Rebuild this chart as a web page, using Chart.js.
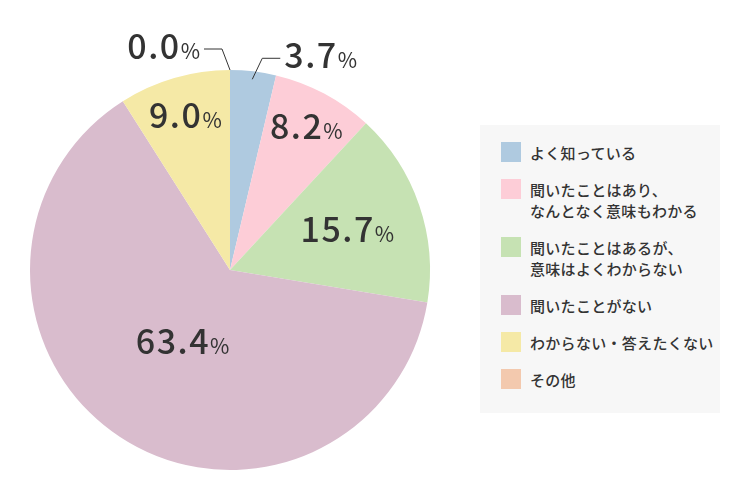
<!DOCTYPE html>
<html lang="ja">
<head>
<meta charset="UTF-8">
<title>認知度</title>
<script src="https://cdn.jsdelivr.net/npm/chart.js"></script>
<style>
  body { margin: 0; background: #fff; }
  #wrap { position: relative; width: 750px; height: 500px; }
  #legend {
    position: absolute; left: 480px; top: 125px; width: 240px; height: 288px;
    background: #f7f7f7; box-sizing: border-box; padding: 17px 0 0 21px;
    font-family: "Noto Sans CJK JP", sans-serif; font-size: 15px; font-weight: 500; color: #333;
  }
  .item { display: flex; align-items: flex-start; margin-bottom: 16px; }
  .box { width: 20px; height: 20px; flex: none; margin-right: 9px; }
  .txt { line-height: 21px; white-space: pre-line; letter-spacing: 0.3px; }
</style>
</head>
<body>
<div id="wrap">
  <canvas id="pie" width="750" height="500"></canvas>
  <div id="legend"></div>
</div>
<script>
const labels = [
  'よく知っている',
  '聞いたことはあり、\nなんとなく意味もわかる',
  '聞いたことはあるが、\n意味はよくわからない',
  '聞いたことがない',
  'わからない・答えたくない',
  'その他'
];
const values = [3.7, 8.2, 15.7, 63.4, 9.0, 0.0];
const colors = ['#afcae0', '#fdcdd7', '#c6e2b3', '#d9bccd', '#f5e9a6', '#f3c9ae'];

// where each percentage sits, as a fraction of the radius (null = outside with a leader line)
const labelRadius = [null, 0.81, 0.62, 0.43, 0.8, null];
const outsideSide = { 0: 'right', 5: 'left' };

const legend = document.getElementById('legend');
labels.forEach((l, i) => {
  const d = document.createElement('div');
  d.className = 'item';
  d.innerHTML = '<div class="box" style="background:' + colors[i] + '"></div><div class="txt"></div>';
  d.querySelector('.txt').textContent = l;
  legend.appendChild(d);
});

const FONT = '"Noto Sans CJK JP", sans-serif';

function drawPct(ctx, text, x, y, align) {
  ctx.letterSpacing = '1.5px';
  ctx.font = '500 34px ' + FONT;
  const w1 = ctx.measureText(text).width;
  ctx.letterSpacing = '0px';
  ctx.font = '400 21px ' + FONT;
  const w2 = ctx.measureText('%').width;
  const total = w1 + w2;
  let x0 = x;
  if (align === 'center') x0 = x - total / 2;
  if (align === 'right') x0 = x - total;
  ctx.textAlign = 'left';
  ctx.textBaseline = 'alphabetic';
  ctx.fillStyle = '#333';
  ctx.letterSpacing = '1.5px';
  ctx.font = '500 34px ' + FONT;
  ctx.fillText(text, x0, y);
  ctx.letterSpacing = '0px';
  ctx.font = '400 21px ' + FONT;
  ctx.fillText('%', x0 + w1, y);
}

const pctLabels = {
  id: 'pctLabels',
  afterDatasetsDraw(chart) {
    const ctx = chart.ctx;
    const meta = chart.getDatasetMeta(0);
    ctx.save();
    meta.data.forEach((arc, i) => {
      const p = arc.getProps(['x', 'y', 'startAngle', 'endAngle', 'outerRadius'], true);
      const mid = (p.startAngle + p.endAngle) / 2;
      const txt = values[i].toFixed(1);
      if (labelRadius[i] !== null) {
        const r = p.outerRadius * labelRadius[i];
        drawPct(ctx, txt, p.x + Math.cos(mid) * r, p.y + Math.sin(mid) * r + 12, 'center');
      } else {
        const side = outsideSide[i];
        const r0 = p.outerRadius * (side === 'right' ? 0.96 : 1.0);
        const sx = p.x + Math.cos(mid) * r0, sy = p.y + Math.sin(mid) * r0;
        const dir = side === 'right' ? 1 : -1;
        const ex = sx + dir * (side === 'right' ? 10 : 8), ey = sy - 21;
        const hx = ex + dir * 18;
        ctx.strokeStyle = '#333';
        ctx.lineWidth = 1;
        ctx.beginPath();
        ctx.moveTo(sx, sy);
        ctx.lineTo(ex, ey);
        ctx.lineTo(hx, ey);
        ctx.stroke();
        drawPct(ctx, txt, hx + dir * 4, ey + 10, side === 'right' ? 'left' : 'right');
      }
    });
    ctx.restore();
  }
};

new Chart(document.getElementById('pie').getContext('2d'), {
  type: 'pie',
  data: {
    labels: labels,
    datasets: [{
      data: values,
      backgroundColor: colors,
      borderWidth: 0
    }]
  },
  options: {
    responsive: false,
    animation: false,
    layout: { padding: { left: 30, right: 320, top: 70, bottom: 30 } },
    plugins: { legend: { display: false }, tooltip: { enabled: false } }
  },
  plugins: [pctLabels]
});
</script>
</body>
</html>
